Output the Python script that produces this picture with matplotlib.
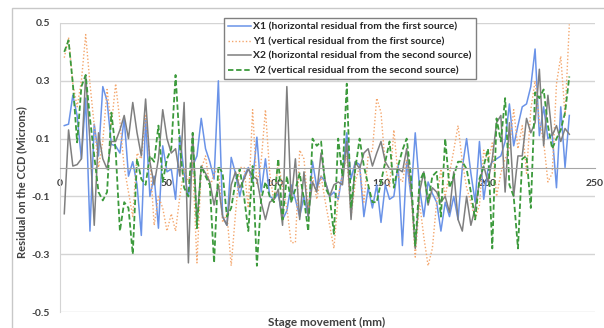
import numpy as np
import matplotlib
matplotlib.use("Agg")
import matplotlib.pyplot as plt
from matplotlib.patches import Rectangle

plt.rcParams['font.family'] = ['Lato', 'DejaVu Sans']

# position de la platine (mm), un point tous les 2 mm
x = np.arange(2, 240, 2)

# X1 : residu horizontal, premiere source
x1 = [0.145, 0.15, 0.25, 0.18, 0.03, 0.24, -0.22, 0.15, 0.04, 0.28,
      0.23, 0.08, 0.075, 0.05, 0.17, -0.03, 0.02, -0.06, -0.235, 0.17,
      -0.1, -0.03, -0.21, 0.075, -0.015, -0.005, -0.11, 0.11, -0.02, -0.1,
      0.006, 0.04, 0.17, 0.065, 0.02, -0.04, 0.30, -0.17, -0.20, 0.035,
      -0.02, -0.10, -0.03, 0.0, -0.05, 0.105, -0.085, 0.03, -0.10, -0.11,
      -0.09, -0.18, -0.15, -0.06, -0.11, -0.17, -0.10, -0.17, 0.02, -0.07,
      -0.03, -0.05, -0.10, -0.085, -0.11, -0.02, 0.12, -0.04, 0.02, 0.01,
      -0.17, -0.07, -0.14, -0.06, -0.19, -0.06, -0.11, -0.10, 0.007, -0.27,
      0.02, -0.10, 0.12, -0.07, -0.17, -0.05, -0.09, -0.12, -0.22, -0.12,
      -0.17, -0.10, -0.18, 0.0, 0.10, -0.02, -0.12, 0.09, -0.11, -0.005,
      0.02, 0.03, 0.04, 0.09, 0.22, 0.075, 0.145, 0.21, 0.22, 0.28,
      0.41, 0.11, 0.21, 0.10, 0.115, -0.07, 0.21, 0.0, 0.18]

# Y1 : residu vertical, premiere source
y1 = [0.38, 0.45, 0.29, 0.21, 0.30, 0.46, 0.29, 0.145, 0.0, 0.09,
      0.27, 0.145, 0.29, 0.16, 0.0, -0.085, -0.17, 0.05, 0.03, 0.185,
      0.03, -0.20, -0.10, -0.14, -0.22, -0.16, -0.22, -0.10, -0.005, -0.05,
      0.02, -0.33, -0.005, 0.04, -0.07, -0.02, 0.0, -0.19, -0.16, -0.34,
      -0.16, 0.0, 0.0, -0.14, 0.20, -0.06, 0.02, 0.20, -0.02, -0.12,
      0.02, -0.07, -0.14, -0.26, -0.26, 0.06, 0.03, -0.14, -0.03, -0.11,
      -0.03, -0.12, -0.20, -0.28, -0.10, -0.02, 0.04, -0.17, -0.05, 0.005,
      -0.12, 0.04, 0.06, 0.24, 0.19, 0.005, -0.07, 0.13, -0.03, -0.05,
      0.03, -0.085, -0.31, -0.12, -0.24, -0.34, -0.28, -0.12, -0.005, -0.10,
      -0.02, 0.06, 0.145, 0.02, -0.07, -0.12, -0.18, -0.13, 0.06, 0.02,
      0.085, -0.10, -0.02, 0.03, 0.065, 0.20, 0.065, 0.145, -0.02, 0.20,
      0.30, 0.16, 0.09, -0.05, -0.02, 0.29, 0.385, 0.18, 0.495]

# X2 : residu horizontal, deuxieme source
x2 = [-0.16, 0.13, 0.005, 0.01, 0.03, 0.32, 0.09, -0.2, 0.12, 0.03,
      -0.005, 0.09, 0.09, 0.13, 0.18, 0.1, 0.225, 0.12, 0.04, 0.237,
      0.02, -0.06, 0.03, 0.2, 0.1, 0.05, 0.065, -0.03, 0.225, -0.33,
      0.12, -0.19, 0.005, -0.02, -0.05, -0.13, -0.06, -0.17, -0.2, -0.06,
      -0.015, -0.07, -0.04, -0.005, -0.03, -0.04, -0.12, -0.18, -0.12, -0.11,
      -0.075, -0.2, 0.28, -0.12, 0.03, -0.18, -0.015, -0.17, -0.05, -0.085,
      0.05, -0.05, -0.1, -0.06, -0.05, -0.06, 0.09, -0.18, 0.02, -0.005,
      0.05, 0.065, 0.005, 0.05, 0.09, 0.02, -0.005, -0.005, -0.005, -0.015,
      0.065, -0.07, -0.28, -0.085, -0.015, -0.13, -0.07, -0.085, -0.12, -0.1,
      -0.155, -0.015, -0.18, -0.22, -0.1, -0.2, -0.14, -0.05, 0.005, -0.05,
      0.03, 0.155, 0.18, -0.085, 0.155, -0.1, 0.04, 0.04, 0.17, 0.12,
      0.155, 0.34, 0.075, 0.25, 0.11, 0.145, 0.09, 0.135, 0.115]

# Y2 : residu vertical, deuxieme source
y2 = [0.40, 0.44, 0.29, 0.087, 0.28, 0.32, 0.17, 0.04, -0.085, -0.114,
      -0.085, 0.19, 0.06, -0.22, -0.12, -0.14, -0.30, 0.03, -0.04, -0.06,
      0.04, 0.02, 0.145, -0.05, 0.03, 0.065, 0.32, 0.075, -0.07, -0.1,
      0.12, -0.21, 0.005, -0.03, -0.06, -0.33, 0.005, -0.02, -0.17, -0.14,
      -0.05, -0.005, -0.1, -0.22, 0.005, -0.34, -0.11, -0.05, -0.1, -0.12,
      0.03, -0.18, -0.03, -0.12, -0.075, -0.02, -0.11, -0.22, 0.1, 0.075,
      0.09, -0.07, -0.1, -0.23, 0.1, -0.03, 0.29, -0.14, -0.005, 0.1,
      0.005, -0.06, -0.12, -0.12, -0.05, 0.02, 0.09, -0.07, 0.005, 0.06,
      0.1, -0.03, -0.27, -0.05, -0.015, -0.12, -0.03, -0.015, -0.17, 0.1,
      -0.07, -0.03, 0.02, 0.02, -0.005, -0.085, -0.18, -0.04, 0.005, 0.065,
      -0.28, 0.17, 0.09, 0.24, -0.06, -0.1, -0.28, 0.03, 0.04, -0.14,
      0.26, 0.24, 0.27, 0.145, 0.065, 0.1, 0.13, 0.19, 0.315]

labels = ["X1 (horizontal residual from the first source)",
          "Y1 (vertical residual from the first source)",
          "X2 (horizontal residual from the second source)",
          "Y2 (vertical residual from the second source)"]

fig = plt.figure(figsize=(6.04, 3.28), dpi=100)
ax = fig.add_axes([60/604, 1-312/328, 535/604, 289/328])

# cadre gris autour du graphe (coupe a droite et en bas)
fig.patches.append(Rectangle((12/604, -0.1), 1.0, 1-8/328+0.1, transform=fig.transFigure,
                             fill=False, edgecolor="#c8c8c8", linewidth=1.0))

ax.plot(x, x1, color="#6a93e8", lw=1.1, label=labels[0])
ax.plot(x, y1, color="#f4a66c", lw=1.0, ls=(0, (1, 1.5)), label=labels[1])
ax.plot(x, x2, color="#7f7f7f", lw=1.1, label=labels[2])
ax.plot(x, y2, color="#3c9a3c", lw=1.3, ls=(0, (3, 1.5)), label=labels[3])

ax.set_xlim(0, 250)
ax.set_ylim(-0.5, 0.5)
ax.set_xticks([0, 50, 100, 150, 200, 250])
ax.set_yticks([-0.5, -0.3, -0.1, 0.1, 0.3, 0.5])
ax.set_yticklabels(["-0.5", "-0.3", "-0.1", "0.1", "0.3", "0.5"])

ax.grid(axis="y", color="#d4d4d4", lw=1.0)
ax.set_axisbelow(True)

# axe des x place a y = 0
ax.spines["bottom"].set_position(("data", 0))
ax.spines["bottom"].set_color("#a6a6a6")
ax.spines["left"].set_color("#d4d4d4")
ax.spines["top"].set_visible(False)
ax.spines["right"].set_visible(False)

ax.tick_params(axis="both", length=0, labelsize=7.5, labelcolor="#404040")
ax.tick_params(axis="x", pad=8)
ax.tick_params(axis="y", pad=7)
for t in ax.get_xticklabels() + ax.get_yticklabels():
    t.set_fontweight("bold")

fig.text(327/604, 1-322/328, "Stage movement (mm)", ha="center", va="center",
         fontsize=8.5, fontweight="bold", color="#404040")
fig.text(22/604, 1-182/328, "Residual on the CCD (Microns)", ha="center", va="center",
         rotation=90, fontsize=8, fontweight="bold", color="#404040")

leg = fig.legend(loc="upper left", bbox_to_anchor=(219/604, 1-13/328), fontsize=7.5,
                 frameon=True, fancybox=False, framealpha=1, edgecolor="#808080",
                 handlelength=2.2, handletextpad=0.2, labelspacing=0.5, borderpad=0.4)
leg.get_frame().set_linewidth(1.0)
for t in leg.get_texts():
    t.set_fontweight("bold")
    t.set_color("#262626")

fig.savefig("out.png", dpi=100)
